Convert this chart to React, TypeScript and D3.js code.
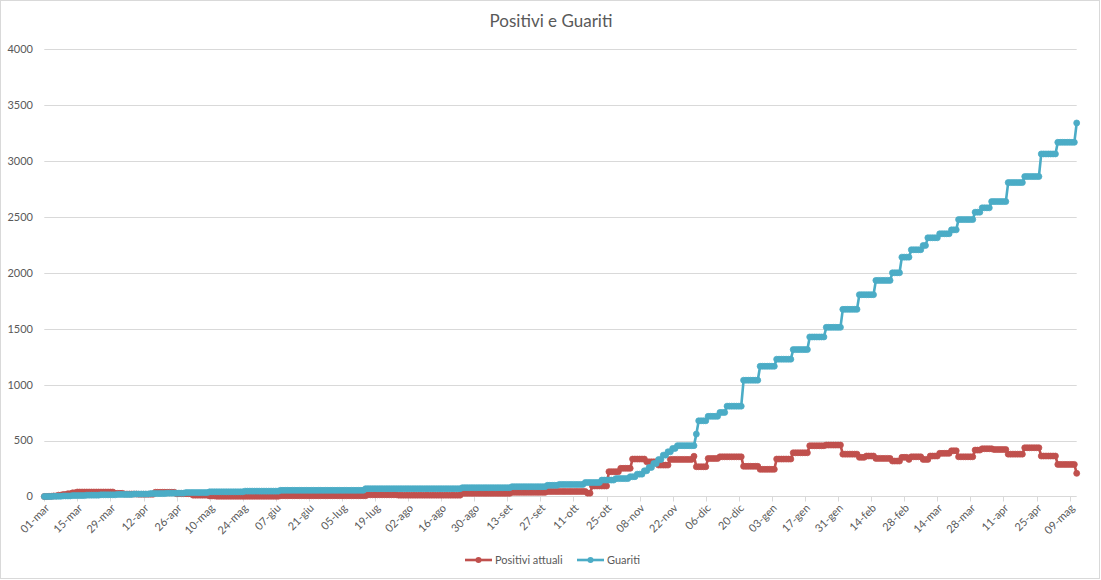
import React from 'react';
import * as d3 from 'd3';

// Days counted from 01-mar-2020 (day 0). Each pair: [first day of the plateau, value]
const positiviRuns: [number, number][] = [
  [0, 0], [2, 2], [4, 5], [6, 12], [8, 18], [10, 25], [12, 33], [14, 40], [30, 28], [34, 22],
  [40, 20], [47, 38], [56, 25], [63, 12], [70, 5], [73, 2], [100, 7], [137, 15], [150, 12],
  [177, 28], [198, 37], [213, 45], [230, 30], [232, 94], [239, 222], [244, 252], [249, 335],
  [255, 310], [260, 281], [265, 332], [275, 360], [276, 266], [281, 340], [286, 355], [296, 270],
  [303, 243], [310, 335], [317, 391], [324, 454], [331, 460], [338, 379], [345, 350], [348, 362],
  [352, 341], [359, 317], [363, 350], [366, 332], [367, 355], [372, 332], [375, 362], [379, 386],
  [384, 409], [387, 355], [394, 415], [397, 427], [402, 420], [408, 379], [415, 436], [422, 362],
  [429, 287], [437, 207],
];

const guaritiRuns: [number, number][] = [
  [0, 0], [4, 2], [8, 5], [12, 8], [18, 12], [24, 15], [31, 19], [38, 22], [45, 26], [52, 30],
  [60, 35], [70, 42], [85, 48], [100, 55], [136, 70], [177, 79], [198, 88], [213, 100], [218, 108],
  [229, 125], [236, 147], [242, 160], [248, 177], [251, 200], [254, 230], [256, 260], [258, 296],
  [260, 330], [262, 370], [264, 400], [266, 430], [268, 455], [276, 558], [277, 677], [281, 717],
  [286, 752], [289, 808], [296, 1040], [303, 1165], [310, 1228], [317, 1314], [324, 1427],
  [331, 1513], [338, 1674], [345, 1805], [352, 1933], [359, 2001], [363, 2141], [367, 2207],
  [372, 2245], [374, 2314], [379, 2350], [384, 2385], [387, 2477], [394, 2543], [397, 2582],
  [401, 2638], [408, 2808], [415, 2862], [422, 3064], [429, 3168], [437, 3341],
];

const lastDay = 437;
const tickLabels = [
  '01-mar', '15-mar', '29-mar', '12-apr', '26-apr', '10-mag', '24-mag', '07-giu', '21-giu', '05-lug',
  '19-lug', '02-ago', '16-ago', '30-ago', '13-set', '27-set', '11-ott', '25-ott', '08-nov', '22-nov',
  '06-dic', '20-dic', '03-gen', '17-gen', '31-gen', '14-feb', '28-feb', '14-mar', '28-mar', '11-apr',
  '25-apr', '09-mag',
];
const tickStepDays = 14;
const yTicks = [0, 500, 1000, 1500, 2000, 2500, 3000, 3500, 4000];
const seriesNames = ['Positivi attuali', 'Guariti'];
const colors = ['#C0504D', '#4BACC6'];

function expand(runs: [number, number][]): [number, number][] {
  const out: [number, number][] = [];
  let k = 0;
  for (let d = 0; d <= lastDay; d++) {
    while (k + 1 < runs.length && runs[k + 1][0] <= d) k++;
    out.push([d, runs[k][1]]);
  }
  return out;
}

export default function App() {
  const W = 1101, H = 580;
  const x = d3.scaleLinear().domain([0, lastDay]).range([44.3, 1076.7]);
  const y = d3.scaleLinear().domain([0, 4000]).range([496.5, 49.3]);
  const font = 'Lato, "Open Sans", sans-serif';
  const series = [expand(positiviRuns), expand(guaritiRuns)];
  const line = d3.line<[number, number]>().x(d => x(d[0])).y(d => y(d[1]));

  return (
    <svg width={W} height={H} style={{ position: 'absolute', left: 0, top: 0, background: '#fff' }} fontFamily={font}>
      <rect x={0.5} y={0.5} width={W - 2} height={H - 2} fill="#fff" stroke="#D9D9D9" />
      <text x={551} y={27} textAnchor="middle" fontSize={17} fill="#595959">Positivi e Guariti</text>
      {yTicks.map(v => (
        <g key={v}>
          {v > 0 && <line x1={x(0)} x2={x(lastDay)} y1={Math.round(y(v)) + 0.5} y2={Math.round(y(v)) + 0.5} stroke="#D9D9D9" />}
          <text x={33} y={y(v)} dy="0.35em" textAnchor="end" fontSize={11} fill="#595959">{v}</text>
        </g>
      ))}
      <line x1={x(0)} x2={x(lastDay)} y1={496.5} y2={496.5} stroke="#D9D9D9" />
      {tickLabels.map((t, i) => {
        const tx = x(i * tickStepDays);
        return (
          <g key={t + i}>
            <line x1={Math.round(tx) + 0.5} x2={Math.round(tx) + 0.5} y1={496.5} y2={501.5} stroke="#D9D9D9" />
            <text transform={`translate(${tx + 3},${506}) rotate(-45)`} dy="0.35em" textAnchor="end" fontSize={11} fill="#595959">{t}</text>
          </g>
        );
      })}
      {series.map((s, si) => (
        <g key={si}>
          <path d={line(s) || ''} fill="none" stroke={colors[si]} strokeWidth={2.6} strokeLinejoin="round" />
          {s.map(p => (
            <circle key={p[0]} cx={x(p[0])} cy={y(p[1])} r={3} fill={colors[si]} stroke={colors[si]} strokeWidth={0.75} />
          ))}
        </g>
      ))}
      {/* legend */}
      {seriesNames.map((n, i) => {
        const lx = i === 0 ? 465 : 577;
        return (
          <g key={n}>
            <line x1={lx} x2={lx + 27} y1={560} y2={560} stroke={colors[i]} strokeWidth={2.6} />
            <circle cx={lx + 13.5} cy={560} r={3} fill={colors[i]} />
            <text x={lx + 30} y={560} dy="0.35em" fontSize={11} fill="#595959">{n}</text>
          </g>
        );
      })}
    </svg>
  );
}
